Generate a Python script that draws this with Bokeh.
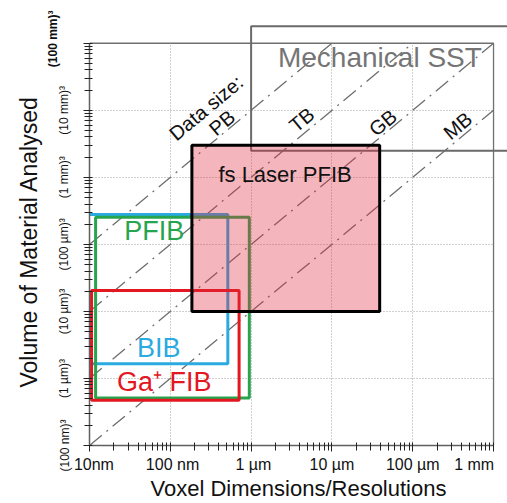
import numpy as np
from bokeh.plotting import figure
from bokeh.models import FixedTicker, Label, Range1d, Grid, Title
from bokeh.embed import file_html
from bokeh.resources import INLINE

FONT = "Liberation Sans"
NB = "\u00a0"

# ---- data -------------------------------------------------------------
# x: voxel dimension (m); y: edge length of analysed volume (m), labelled as a volume
x_tick_values = [1e-8, 1e-7, 1e-6, 1e-5, 1e-4, 1e-3]
x_tick_labels = ["10nm", "100 nm", "1 µm", "10  µm", "100  µm", "1 mm"]
y_tick_values = [1e-7, 1e-6, 1e-5, 1e-4, 1e-3, 1e-2, 1e-1]
y_tick_labels = ["(100 nm)³", "(1 µm)³", "(10 µm)³", "(100 µm)³", "(1 mm)³", "(10 mm)³", "(100 mm)³"]

techniques = ["Mechanical SST", "fs Laser PFIB", "PFIB", "BIB", "Ga⁺ FIB"]
voxel_min = [1.0e-6, 1.85e-7, 1.19e-8, 9.5e-9, 1.06e-8]
voxel_max = [1.0e-2, 3.9e-5, 0.95e-6, 5.15e-7, 7.1e-7]
edge_min = [2.5e-3, 1.0e-5, 5.1e-7, 1.66e-6, 4.75e-7]
edge_max = [0.179, 3.0e-3, 2.55e-4, 2.8e-4, 2.05e-5]

data_size_labels = ["PB", "TB", "GB", "MB"]
edge_to_voxel_ratio = [1e4, 1e3, 1e2, 1e1]

# ---- figure -----------------------------------------------------------
XMIN, XMAX = x_tick_values[0], x_tick_values[-1]
YMIN, YMAX = y_tick_values[0], y_tick_values[-1]
# frame extends a little beyond the drawn plot box (top and right) so the
# Mechanical SST box can overhang it, as in the original
x_view_end = XMAX * 10 ** (14 / 81)
y_view_end = YMAX * 10 ** (33 / 67.5)

p = figure(width=507, height=503, x_axis_type="log", y_axis_type="log",
           x_range=Range1d(XMIN, x_view_end), y_range=Range1d(YMIN, y_view_end),
           output_backend="svg", toolbar_location=None,
           min_border_left=89, min_border_right=0, min_border_top=10, min_border_bottom=55)
p.background_fill_color = "white"
p.border_fill_color = "white"
p.outline_line_color = None

x_minor = [m * 10.0 ** e for e in range(-8, -3) for m in range(2, 10)]
y_minor = [m * 10.0 ** e for e in range(-7, -1) for m in range(2, 10)]
p.xaxis.ticker = FixedTicker(ticks=x_tick_values, minor_ticks=x_minor)
p.yaxis.ticker = FixedTicker(ticks=y_tick_values, minor_ticks=y_minor)
# small non-breaking pads nudge the x labels like in the original
x_pads = [(2, 0), (1, 0), (1, 0), (1, 0), (1, 0), (0, 3)]
p.xaxis.major_label_overrides = {v: NB * a + t + NB * b
                                 for v, t, (a, b) in zip(x_tick_values, x_tick_labels, x_pads)}
y_over = dict(zip(y_tick_values, y_tick_labels))
y_over[YMAX] = ""          # drawn bold, separately
p.yaxis.major_label_overrides = y_over
p.xaxis.bounds = (XMIN, XMAX)
p.yaxis.bounds = (YMIN, YMAX)

for ax in (p.xaxis, p.yaxis):
    ax.axis_line_color = "#606060"
    ax.axis_line_width = 1.5
    ax.major_tick_line_color = "#222222"
    ax.minor_tick_line_color = "#222222"
    ax.major_tick_in = 3
    ax.major_tick_out = 6
    ax.minor_tick_in = 3
    ax.minor_tick_out = 5
    ax.major_label_text_font = FONT
    ax.major_label_text_color = "#111111"

p.xaxis.major_label_text_font_size = "16px"
p.xaxis.major_label_standoff = 4
p.xaxis.axis_label = "Voxel Dimensions/Resolutions"
p.xaxis.axis_label_text_font = FONT
p.xaxis.axis_label_text_font_size = "22px"
p.xaxis.axis_label_text_font_style = "normal"
p.xaxis.axis_label_text_color = "#111111"
p.xaxis.axis_label_standoff = 0

p.yaxis.major_label_text_font_size = "12px"
p.yaxis.major_label_orientation = "vertical"
p.yaxis.major_label_standoff = 12

# bold top y label and the y title, as side titles
p.add_layout(Title(text=y_tick_labels[-1], align="right", offset=0, standoff=-10,
                   vertical_align="bottom", text_font=FONT, text_font_size="12px",
                   text_font_style="bold", text_color="#111111"), "left")
p.add_layout(Title(text="Volume of Material Analysed", align="left", offset=58, standoff=12,
                   vertical_align="middle", text_font=FONT, text_font_size="23px",
                   text_font_style="normal", text_color="#111111"), "left")

# grid limited to the plot box
grid_kw = dict(grid_line_color="#a0a0a0", grid_line_dash="1 2", grid_line_width=1)
if "cross_bounds" in Grid.properties():
    p.xgrid.cross_bounds = (YMIN, YMAX)
    p.ygrid.cross_bounds = (XMIN, XMAX)
    for k, v in grid_kw.items():
        setattr(p.grid, k, v)
else:
    p.grid.visible = False
    p.segment(x0=x_tick_values, x1=x_tick_values, y0=YMIN, y1=YMAX,
              line_color="#a0a0a0", line_dash="1 2", line_width=1)
    p.segment(x0=XMIN, x1=XMAX, y0=y_tick_values, y1=y_tick_values,
              line_color="#a0a0a0", line_dash="1 2", line_width=1)

# top and right border of the plot box
p.line([XMIN, XMAX, XMAX], [YMAX, YMAX, YMIN], line_color="#707070", line_width=1.3)

# ---- data size diagonals (edge = ratio * voxel), clipped to the box ---
for k in edge_to_voxel_ratio:
    x0 = max(XMIN, YMIN / k)
    x1 = min(XMAX, YMAX / k)
    p.line([x0, x1], [x0 * k, x1 * k], line_color="#6e6e6e", line_width=1.3, line_dash="16 6 2 6")

# ---- technique boxes --------------------------------------------------
p.quad(left=[voxel_min[0]], right=[voxel_max[0]], bottom=[edge_min[0]], top=[edge_max[0]],
       fill_color=None, line_color="#6a6a6a", line_width=2)

box_colors = {2: "#27a54e", 3: "#2aaae0", 4: "#e3171f"}
for i in (3, 2, 4):
    p.quad(left=[voxel_min[i]], right=[voxel_max[i]], bottom=[edge_min[i]], top=[edge_max[i]],
           fill_color=None, line_color=box_colors[i], line_width=3)

p.quad(left=[voxel_min[1]], right=[voxel_max[1]], bottom=[edge_min[1]], top=[edge_max[1]],
       fill_color="#df2a3e", fill_alpha=0.35, line_color=None)
p.quad(left=[voxel_min[1]], right=[voxel_max[1]], bottom=[edge_min[1]], top=[edge_max[1]],
       fill_color=None, line_color="black", line_width=3)

# ---- texts ------------------------------------------------------------
def lab(x, y, text, size, color="#111111", angle=0.0, align="center", baseline="middle"):
    p.add_layout(Label(x=x, y=y, text=text, text_font=FONT, text_font_size=size,
                       text_color=color, angle=angle, text_align=align,
                       text_baseline=baseline))

lab(2.15e-6, 0.062, techniques[0], "28px", color="#757575", align="left")
lab(2.63e-6, 1.09e-3, techniques[1], "22px")
lab(6.34e-8, 1.56e-4, techniques[2], "27px", color=box_colors[2])
lab(7.21e-8, 2.83e-6, techniques[3], "27px", color=box_colors[3])
lab(8.44e-8, 8.87e-7, techniques[4], "27px", color=box_colors[4])

diag = np.arctan(67.5 / 81.0)
lab(2.78e-7, 1.09e-2, "Data size:", "20px", angle=diag)
label_pos = [(4.35e-7, 6.53e-3), (4.23e-6, 7.23e-3), (4.27e-5, 6.53e-3), (3.6e-4, 5.89e-3)]
for name, (lx, ly) in zip(data_size_labels, label_pos):
    lab(lx, ly, name, "20px", angle=diag)

open("out.html", "w").write(file_html(p, INLINE))
